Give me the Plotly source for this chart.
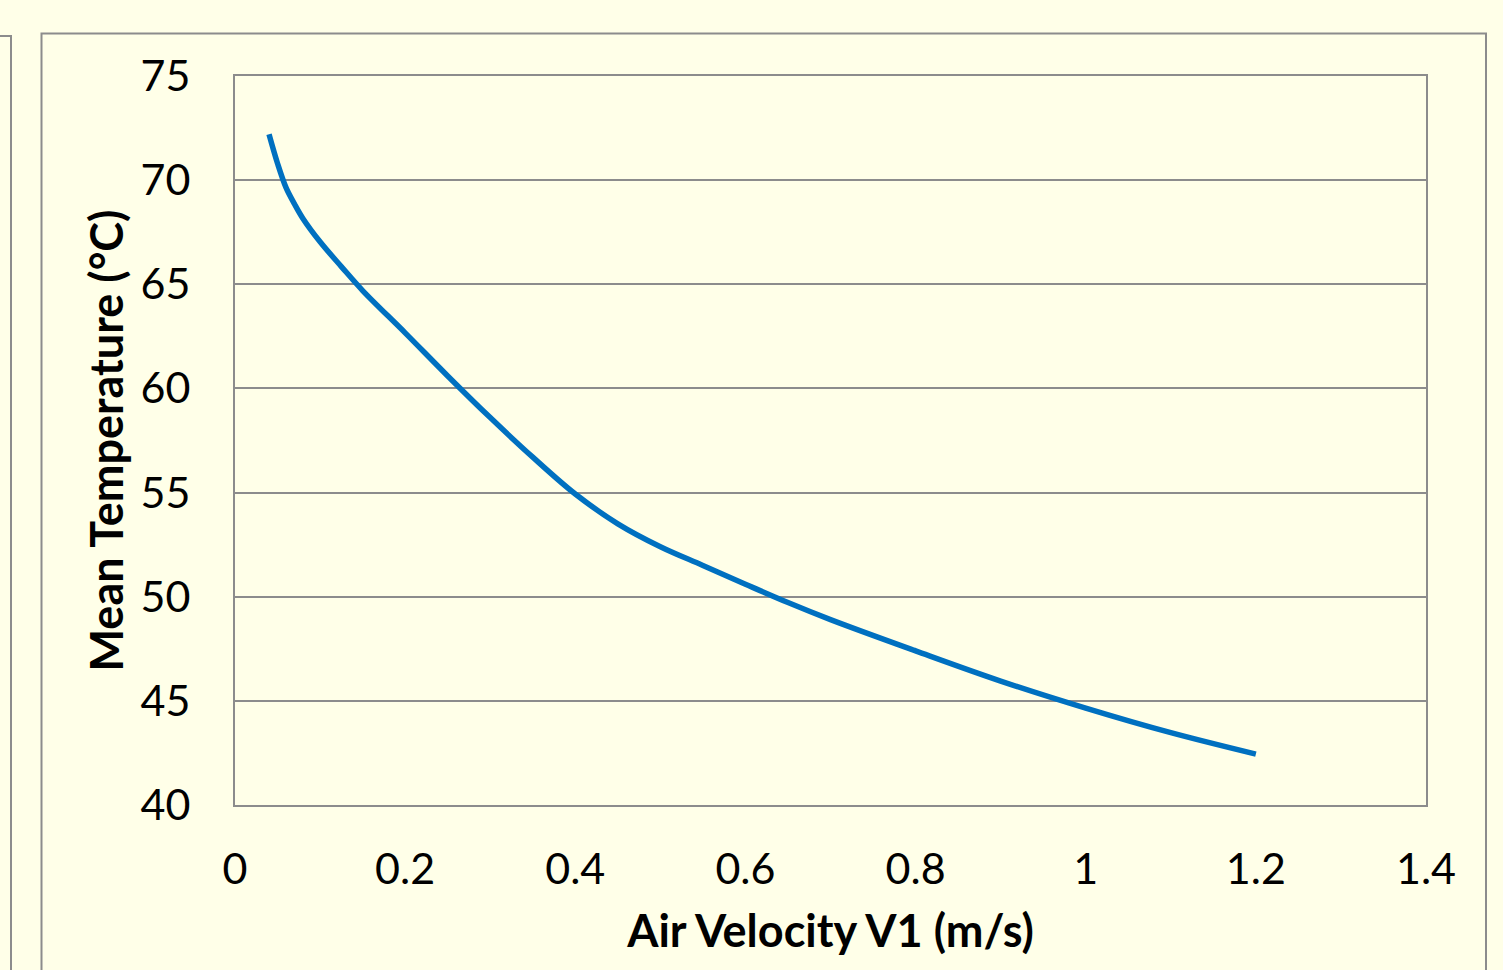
import plotly.graph_objects as go

# Data
air_velocity = [0.04, 0.05, 0.06, 0.07, 0.08, 0.10, 0.125, 0.15, 0.20, 0.25, 0.30, 0.35, 0.40,
                0.45, 0.50, 0.55, 0.60, 0.65, 0.70, 0.80, 0.90, 1.00, 1.10, 1.20]
mean_temp = [72.2, 70.8, 69.64, 68.85, 68.15, 67.04, 65.85, 64.7, 62.67, 60.6, 58.6, 56.7, 54.93,
             53.5, 52.4, 51.5, 50.6, 49.72, 48.9, 47.4, 45.95, 44.65, 43.47, 42.44]

x_ticks = [0, 0.2, 0.4, 0.6, 0.8, 1, 1.2, 1.4]
y_ticks = [40, 45, 50, 55, 60, 65, 70, 75]

BG = "#FFFFE8"
GRID = "#8C8C8C"
FONT = "Lato"

W, H = 1503, 970
L, R, T, B = 235, 77, 76, 165
pw, ph = W - L - R, H - T - B

def px_x(px):
    return (px - L) / pw

def px_y(py):
    return (H - B - py) / ph

fig = go.Figure()
fig.add_trace(go.Scatter(
    x=air_velocity, y=mean_temp, mode="lines",
    line=dict(color="#0070C0", width=5.5, shape="spline", smoothing=1.0),
    showlegend=False, hoverinfo="x+y"))

fig.update_layout(
    width=W, height=H,
    margin=dict(l=L, r=R, t=T, b=B, autoexpand=False),
    paper_bgcolor=BG, plot_bgcolor=BG,
    font=dict(family=FONT, color="#000000", size=43),
    xaxis=dict(
        range=[0, 1.4], tickvals=x_ticks, ticktext=[str(v) for v in x_ticks],
        showgrid=False, zeroline=False, showline=True, mirror=True,
        linecolor=GRID, linewidth=2, ticks="", ticklabelstandoff=25,
        tickfont=dict(size=43),
        title=dict(text="<b>Air Velocity V1 (m/s)</b>", font=dict(size=45), standoff=24),
    ),
    yaxis=dict(
        range=[40, 75], tickvals=y_ticks,
        showgrid=True, gridcolor=GRID, gridwidth=2, zeroline=False,
        showline=True, mirror=True, linecolor=GRID, linewidth=2,
        ticks="", ticklabelstandoff=34, tickfont=dict(size=43),
        title=dict(text="<b>Mean Temperature (°C)</b>", font=dict(size=45), standoff=3),
    ),
    shapes=[
        # outer chart frame
        dict(type="rect", xref="paper", yref="paper",
             x0=px_x(41.5), x1=px_x(1486), y0=px_y(1000), y1=px_y(33.5),
             line=dict(color=GRID, width=2), layer="below"),
        # neighbouring panel edge on the left
        dict(type="path", xref="paper", yref="paper",
             path=f"M {px_x(-5)},{px_y(36)} L {px_x(11)},{px_y(36)} L {px_x(11)},{px_y(1000)}",
             line=dict(color=GRID, width=2), layer="below"),
    ],
)

fig.write_html(
    "out.html",
    config={"displayModeBar": False},
    post_script=f"document.body.style.margin='0';document.body.style.background='{BG}';"
                "document.documentElement.style.overflow='hidden';",
)
